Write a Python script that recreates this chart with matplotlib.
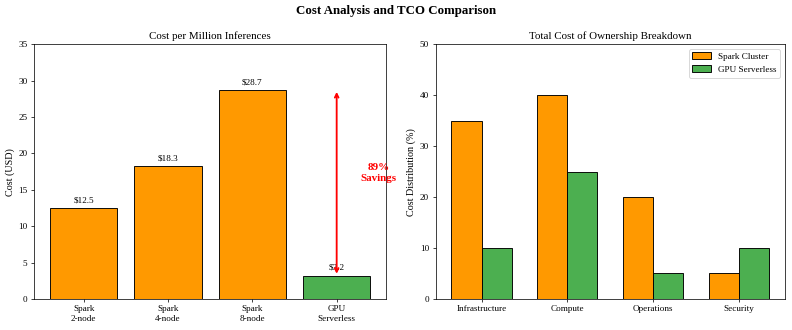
import matplotlib
matplotlib.use("Agg")
import matplotlib.pyplot as plt
import numpy as np

plt.rcParams['font.family'] = ['Liberation Serif', 'DejaVu Serif']

configs = ['Spark\n2-node', 'Spark\n4-node', 'Spark\n8-node', 'GPU\nServerless']
costs = [12.5, 18.3, 28.7, 3.2]
bar_colors = ['#FF9900', '#FF9900', '#FF9900', '#4CAF50']

tco_categories = ['Infrastructure', 'Compute', 'Operations', 'Security']
spark_tco = [35, 40, 20, 5]
gpu_tco = [10, 25, 5, 10]

fig = plt.figure(figsize=(12, 5), dpi=66)
ax1 = fig.add_axes([0.0429, 0.0942, 0.445, 0.7718])
ax2 = fig.add_axes([0.550, 0.0942, 0.441, 0.7718])

# left: cost per million inferences
x = np.arange(len(configs))
ax1.bar(x, costs, color=bar_colors, edgecolor='black', width=0.8)
for i, c in enumerate(costs):
    ax1.text(i, c + 0.5, f'${c}', ha='center', va='bottom', fontsize=10)
ax1.set_xticks(x)
ax1.set_xticklabels(configs, fontsize=10)
ax1.set_ylim(0, 35)
ax1.set_ylabel('Cost (USD)', fontsize=11)
ax1.set_title('Cost per Million Inferences', fontsize=12)

# savings arrow
ax1.annotate('', xy=(3, costs[2]), xytext=(3, costs[3]),
             arrowprops=dict(arrowstyle='<->', color='red', lw=2))
ax1.text(3.5, 17.3, '89%\nSavings', color='red', fontsize=12, fontweight='bold',
         ha='center', va='center')

# right: TCO breakdown
xt = np.arange(len(tco_categories))
w = 0.35
ax2.bar(xt - w / 2, spark_tco, w, color='#FF9900', edgecolor='black', label='Spark Cluster')
ax2.bar(xt + w / 2, gpu_tco, w, color='#4CAF50', edgecolor='black', label='GPU Serverless')
ax2.set_xticks(xt)
ax2.set_xticklabels(tco_categories, fontsize=10)
ax2.set_ylim(0, 50)
ax2.set_ylabel('Cost Distribution (%)', fontsize=11)
ax2.set_title('Total Cost of Ownership Breakdown', fontsize=12)
ax2.legend(fontsize=10)

fig.suptitle('Cost Analysis and TCO Comparison', fontsize=14, fontweight='bold', y=0.985)

fig.savefig('out.png', dpi=66)
